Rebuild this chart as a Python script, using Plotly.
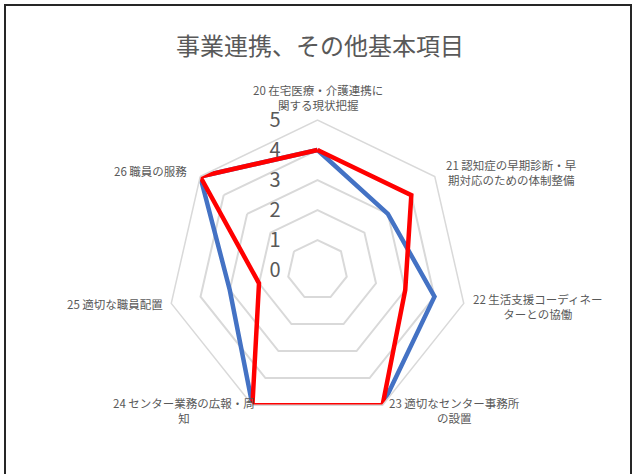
import plotly.graph_objects as go

categories = [
    "20 在宅医療・介護連携に関する現状把握",
    "21 認知症の早期診断・早期対応のための体制整備",
    "22 生活支援コーディネーターとの協働",
    "23 適切なセンター事務所の設置",
    "24 センター業務の広報・周知",
    "25 適切な職員配置",
    "26 職員の服務",
]
category_labels = [
    "20 在宅医療・介護連携に<br>関する現状把握",
    "21 認知症の早期診断・早<br>期対応のための体制整備",
    "22 生活支援コーディネー<br>ターとの協働",
    "23 適切なセンター事務所<br>の設置",
    "24 センター業務の広報・周<br>知",
    "25 適切な職員配置",
    "26 職員の服務",
]
blue_values = [4, 3, 4, 5, 5, 3, 5]
red_values = [4, 4, 3, 5, 5, 2, 5]
radial_ticks = [0, 1, 2, 3, 4, 5]
title_text = "事業連携、その他基本項目"

W, H = 641, 474
cx, cy, R = 317.5, 270.0, 150.0

# label anchor positions in pixels (x, y, xanchor)
label_pos = [
    (318, 97, "center"),
    (511, 172, "center"),
    (538, 306, "center"),
    (454, 410, "center"),
    (184, 410, "center"),
    (165, 304, "right"),
    (189, 171, "right"),
]

def closed(v):
    return list(v) + [v[0]]

fig = go.Figure()
fig.add_trace(go.Scatterpolar(
    r=closed(blue_values), theta=closed(categories), mode="lines",
    line=dict(color="#4472C4", width=4.5), name="系列1", showlegend=False,
))
fig.add_trace(go.Scatterpolar(
    r=closed(red_values), theta=closed(categories), mode="lines",
    line=dict(color="#FF0000", width=4.5), name="系列2", showlegend=False,
))

font_family = "Noto Sans CJK JP, Noto Sans, sans-serif"

annotations = []
for text, (px, py, xa) in zip(category_labels, label_pos):
    annotations.append(dict(
        text=text, xref="paper", yref="paper", x=px / W, y=1 - py / H,
        xanchor=xa, yanchor="middle", showarrow=False, align="center",
        font=dict(size=11.5, color="#595959", family=font_family),
    ))

pad = "\u2007\u2007\u2007"

fig.update_layout(
    width=W, height=H,
    margin=dict(l=0, r=0, t=0, b=0),
    paper_bgcolor="white",
    font=dict(family=font_family, color="#595959"),
    title=dict(text=title_text, x=320 / W, xanchor="center",
               y=1 - 47 / H, yanchor="middle",
               font=dict(size=24, color="#595959", family=font_family)),
    polar=dict(
        domain=dict(x=[(cx - R) / W, (cx + R) / W],
                    y=[(H - cy - R) / H, (H - cy + R) / H]),
        bgcolor="white",
        gridshape="linear",
        radialaxis=dict(
            range=[0, 5], tickvals=radial_ticks,
            ticktext=[str(t) + pad for t in radial_ticks],
            angle=90, tickangle=90, side="counterclockwise",
            showline=False, ticks="",
            gridcolor="#D9D9D9", gridwidth=1.5,
            tickfont=dict(size=20, color="#595959"),
        ),
        angularaxis=dict(
            rotation=90, direction="clockwise",
            showgrid=False, showline=True, linecolor="#D9D9D9", linewidth=1.5,
            ticks="", showticklabels=False,
        ),
    ),
    annotations=annotations,
    shapes=[dict(type="rect", xref="paper", yref="paper",
                 x0=5 / W, x1=631 / W, y0=-0.05, y1=1 - 5 / H,
                 line=dict(color="#262626", width=2), layer="above")],
)

fig.write_html("out.html",
               config={"displayModeBar": False},
               post_script="document.body.style.margin='0';document.body.style.padding='0';")
